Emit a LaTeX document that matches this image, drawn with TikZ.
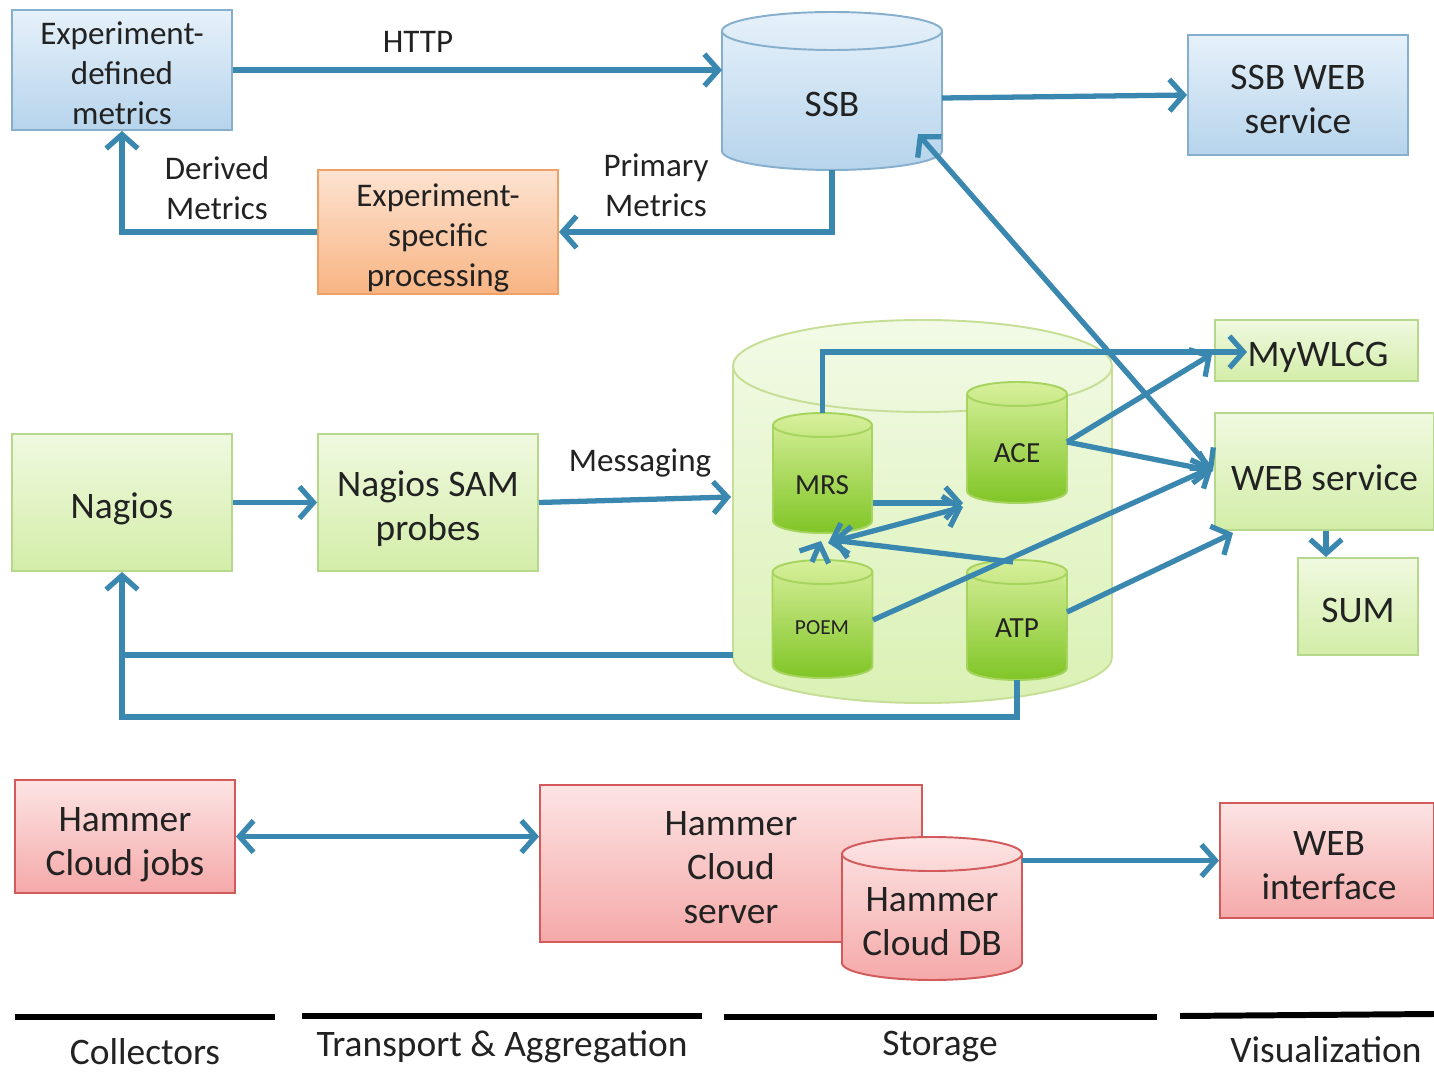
\documentclass[tikz,border=0pt]{standalone}
\usepackage{fontspec}
\setmainfont{Carlito}
\usetikzlibrary{arrows.meta}
\def\pxu{0.02cm}
\definecolor{arrowc}{HTML}{3A87B0}
\definecolor{textc}{HTML}{222222}
\definecolor{bluetop}{HTML}{E6F1FA}
\definecolor{bluebot}{HTML}{B6D4EC}
\definecolor{blueedge}{HTML}{86AECD}
\definecolor{orgtop}{HTML}{FDE3D1}
\definecolor{orgbot}{HTML}{F8B483}
\definecolor{orgedge}{HTML}{EFA066}
\definecolor{grntop}{HTML}{F0F9E0}
\definecolor{grnbot}{HTML}{D3EDA8}
\definecolor{grnedge}{HTML}{B6D88C}
\definecolor{bigtop}{HTML}{F2FAE6}
\definecolor{bigbot}{HTML}{DAF1B4}
\definecolor{bigedge}{HTML}{C6DE96}
\definecolor{intop}{HTML}{D8F09C}
\definecolor{inbot}{HTML}{80C526}
\definecolor{inedge}{HTML}{A6D45E}
\definecolor{pnktop}{HTML}{FDE4E4}
\definecolor{pnkbot}{HTML}{F5A9A9}
\definecolor{pnkedge}{HTML}{D25A5A}
\newcommand\cylinderat[8]{%
 \path[#7,draw=#8,line width=1.1pt] (#2-#5,-#3-#6) -- (#2-#5,-#4+#6) arc[start angle=180,end angle=360,x radius=#5,y radius=#6] -- (#2+#5,-#3-#6) arc[start angle=0,end angle=180,x radius=#5,y radius=#6] -- cycle;
 \draw[draw=#8,line width=1.1pt] (#2+#5,-#3-#6) arc[start angle=0,end angle=-180,x radius=#5,y radius=#6];
 \node[inner sep=0,outer sep=0,minimum width={2*#5*\pxu},minimum height={(#4-#3)*\pxu}] (#1) at (#2,{-(#3+#4)/2}) {};
}
\begin{document}
\begin{tikzpicture}[x=0.02cm,y=0.02cm,
  fbig/.style={font=\fontsize{21.3pt}{25pt}\selectfont, text=textc},
  fsmall/.style={font=\fontsize{18.8pt}{22.7pt}\selectfont, text=textc},
  fcyl/.style={font=\fontsize{16.6pt}{20pt}\selectfont, text=textc},
  ftiny/.style={font=\fontsize{12.2pt}{14pt}\selectfont, text=textc},
  wh/.style 2 args={minimum width=#1*\pxu, minimum height=#2*\pxu},
  box/.style={draw, line width=1.1pt, inner sep=0pt},
  bluebox/.style={box, draw=blueedge, top color=bluetop, bottom color=bluebot},
  orgbox/.style={box, draw=orgedge, top color=orgtop, bottom color=orgbot},
  grnbox/.style={box, draw=grnedge, top color=grntop, bottom color=grnbot},
  pnkbox/.style={box, draw=pnkedge, top color=pnktop, bottom color=pnkbot},
  lbl/.style={inner sep=0pt, align=center},
  arr/.style={draw=arrowc, line width=3pt, -{Straight Barb[length=8pt,width=18pt]}},
  darr/.style={draw=arrowc, line width=3pt, {Straight Barb[length=8pt,width=18pt]}-{Straight Barb[length=8pt,width=18pt]}},
  plain/.style={draw=arrowc, line width=3pt},
  legline/.style={draw=black, line width=3.4pt}
]
\fill[white] (0,0) rectangle (1434,-1074);
\useasboundingbox (0,0) rectangle (1434,-1074);

% ---------- top row ----------
\node[bluebox, wh={220}{120}] (edm) at (122,-70) {};
\node[lbl, fsmall] (edmtxt) at (122,-73) {Experiment-\\defined\\metrics};
\cylinderat{ssb}{832}{12}{170}{110}{19}{top color=bluetop,bottom color=bluebot}{blueedge}
\node[lbl, fbig] (ssbtxt) at (832,-104) {SSB};
\node[bluebox, wh={220}{120}] (ssbweb) at (1298,-95) {};
\node[lbl, fbig] (ssbwebtxt) at (1298,-99.5) {SSB WEB\\service};
\node[orgbox, wh={240}{124}] (esp) at (438,-232) {};
\node[lbl, fsmall] (esptxt) at (438,-238) {Experiment-\\specific\\processing};
\node[lbl, fsmall] (http) at (418,-42) {HTTP};
\node[lbl, fsmall] (primary) at (656,-185) {Primary\\Metrics};
\node[lbl, fsmall] (derived) at (217,-188) {Derived\\Metrics};

\coordinate (ssbout) at (942,-98);
\draw[arr] (edm.east) -- (edm.east -| ssb.west);
\draw[arr] (ssbout) -- (ssbweb.west);
\draw[arr] (ssb.south) |- (esp.east);
\draw[arr] (esp.west) -| (edm.south);

% ---------- middle row ----------
\cylinderat{big}{922.5}{320}{703}{189.5}{46}{top color=bigtop,bottom color=bigbot}{bigedge}
\cylinderat{mrs}{822.5}{413}{533}{49.5}{12}{top color=intop,bottom color=inbot}{inedge}
\cylinderat{ace}{1017}{382}{503}{50}{12}{top color=intop,bottom color=inbot}{inedge}
\cylinderat{poem}{822.5}{560}{678}{50}{12}{top color=intop,bottom color=inbot}{inedge}
\cylinderat{atp}{1017}{560}{680}{50}{12}{top color=intop,bottom color=inbot}{inedge}
\node[lbl, fcyl] (mrstxt) at (822,-485) {MRS};
\node[lbl, fcyl] (acetxt) at (1017,-453) {ACE};
\node[lbl, ftiny] (poemtxt) at (822,-628) {POEM};
\node[lbl, fcyl] (atptxt) at (1017,-628) {ATP};

\node[grnbox, wh={220}{137}] (nagios) at (122,-502.5) {};
\node[lbl, fbig] (nagiostxt) at (122,-509) {Nagios};
\node[grnbox, wh={220}{137}] (nsp) at (428,-502.5) {};
\node[lbl, fbig] (nsptxt) at (428,-509) {Nagios SAM\\probes};
\node[lbl, fsmall] (msg) at (640,-463) {Messaging};
\node[grnbox, wh={203}{61}] (mywlcg) at (1316.5,-350.5) {};
\node[lbl, fbig] (mywlcgtxt) at (1318,-357) {MyWLCG};
\node[grnbox, wh={219}{117}] (websvc) at (1324.5,-471.5) {};
\node[lbl, fbig] (websvctxt) at (1324.5,-477.5) {WEB service};
\node[grnbox, wh={120}{97}] (sum) at (1358,-606.5) {};
\node[lbl, fbig] (sumtxt) at (1358,-610.5) {SUM};

\coordinate (msgtip) at (731,-497);
\coordinate (bigL) at (733,-655);
\coordinate (loopY) at (0,-717);
\coordinate (mytip) at (1247,-352);
\coordinate (mytip2) at (1212,-354);
\coordinate (aceout) at (1067,-442);
\coordinate (wsin) at (1213,-471);
\coordinate (wsin2) at (1213,-467);
\coordinate (wsin3) at (1233,-533);
\coordinate (ssbtip) at (918,-134);
\coordinate (poemout) at (873,-620);
\coordinate (atpout) at (1067,-612);
\coordinate (mrsout) at (873,-503);
\coordinate (acein) at (963,-503);
\coordinate (acein2) at (963,-507);
\coordinate (mrsbot) at (828,-543);
\coordinate (mrsbot2) at (832,-540);
\coordinate (mrsbot3) at (821,-541);
\coordinate (atptop) at (1013,-562);
\coordinate (poemtop) at (812,-562);

\draw[arr] (nagios.east) -- (nsp.west);
\draw[arr] (nsp.east) -- (msgtip);
\draw[arr] (bigL) -| (nagios.south);
\draw[plain] (atp.south) |- (nagios.south |- loopY) -- (nagios.south |- bigL);
\draw[arr] (mrs.north) |- (mytip);
\draw[arr] (aceout) -- (mytip2);
\draw[arr] (aceout) -- (wsin);
\draw[darr] (ssbtip) -- (wsin);
\draw[arr] (poemout) -- (wsin2);
\draw[arr] (atpout) -- (wsin3);
\draw[arr] (mrsout) -- (acein);
\draw[darr] (mrsbot) -- (acein2);
\draw[arr] (atptop) -- (mrsbot2);
\draw[arr] (poemtop) -- (mrsbot3);
\draw[arr] (websvc.south -| 1326,0) -- (sum.north -| 1326,0);

% ---------- Hammer Cloud row ----------
\node[pnkbox, wh={220}{113}] (hcjobs) at (125,-836.5) {};
\node[lbl, fbig] (hcjobstxt) at (125,-845) {Hammer\\Cloud jobs};
\node[pnkbox, wh={382}{157}] (hcserver) at (731,-863.5) {};
\node[lbl, fbig] (hcservertxt) at (731,-868) {Hammer\\Cloud\\server};
\cylinderat{hcdb}{932}{837}{980}{90}{17}{top color=pnktop,bottom color=pnkbot}{pnkedge}
\node[lbl, fbig] (hcdbtxt) at (932,-922) {Hammer\\Cloud DB};
\node[pnkbox, wh={214}{115}] (webif) at (1327,-860.5) {};
\node[lbl, fbig] (webiftxt) at (1329,-866) {WEB\\interface};

\draw[darr] (hcjobs.east) -- (hcjobs.east -| hcserver.west);
\draw[arr] (hcdb.east |- webif.west) -- (webif.west);

% ---------- legend ----------
\draw[legline] (15,-1017) -- (275,-1017);
\draw[legline] (302,-1016) -- (702,-1016);
\draw[legline] (724,-1017) -- (1157,-1017);
\draw[legline] (1180,-1016) -- (1434,-1014);
\node[lbl, fbig] (lcol) at (145,-1052) {Collectors};
\node[lbl, fbig] (ltra) at (502,-1047) {Transport \& Aggregation};
\node[lbl, fbig] (lsto) at (940,-1047) {Storage};
\node[lbl, fbig] (lvis) at (1326,-1050) {Visualization};
\end{tikzpicture}
\end{document}
